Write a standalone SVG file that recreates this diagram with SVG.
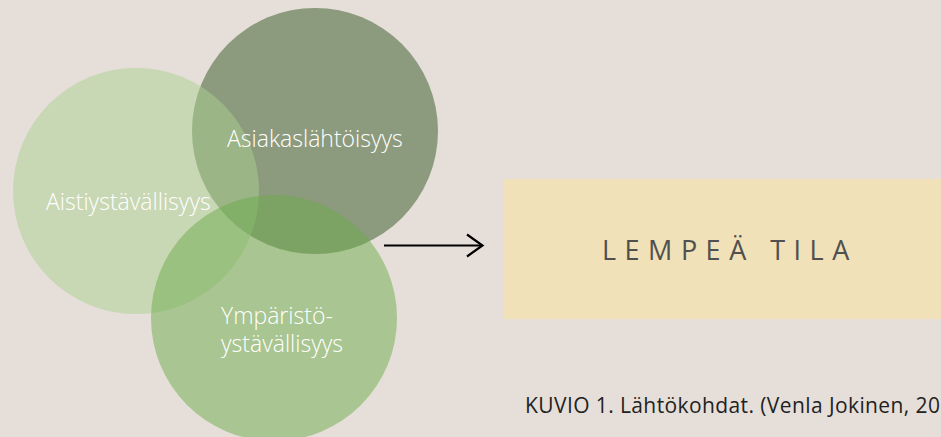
<svg xmlns="http://www.w3.org/2000/svg" width="941" height="437" viewBox="0 0 941 437">
  <style>
    .lbl { font-family: "Open Sans", "Noto Sans", sans-serif; font-weight: 300; font-size: 23px; fill: #ffffff; }
    .title { font-family: "Open Sans", "Noto Sans", sans-serif; font-size: 27px; fill: #505050; letter-spacing: 8.5px; }
    .cap { font-family: "Open Sans", "Noto Sans", sans-serif; font-size: 21px; fill: #222222; letter-spacing: 0.4px; }
    .conn { stroke: #000000; stroke-width: 2.2; fill: none; }
  </style>
  <rect x="0" y="0" width="941" height="437" fill="#e6dfd9"/>
  <g id="asiakaslahtoisyys">
    <circle cx="315" cy="131" r="123" fill="#8c9a7d"/>
  </g>
  <g id="aistiystavallisyys">
    <circle cx="136" cy="191" r="123" fill="#aacf8f" fill-opacity="0.5"/>
    <text class="lbl" x="46" y="210">Aistiystävällisyys</text>
  </g>
  <g id="ymparistoystavallisyys">
    <circle cx="274" cy="318" r="123" fill="#6cab49" fill-opacity="0.5"/>
    <text class="lbl" x="221" y="324">Ympäristö-</text>
    <text class="lbl" x="221" y="352">ystävällisyys</text>
  </g>
  <text class="lbl" x="227" y="147">Asiakaslähtöisyys</text>
  <g id="connectors">
    <line class="conn" x1="384" y1="245.5" x2="482" y2="245.5"/>
    <polyline class="conn" points="467,234.5 482.5,245.5 467,256.5"/>
  </g>
  <g id="lempea-tila">
    <rect x="504" y="179" width="437" height="140" fill="#f1e1b8"/>
    <text class="title" x="602" y="260">LEMPEÄ TILA</text>
  </g>
  <text class="cap" x="525" y="413">KUVIO 1. Lähtökohdat. (Venla Jokinen, 20</text>
</svg>
